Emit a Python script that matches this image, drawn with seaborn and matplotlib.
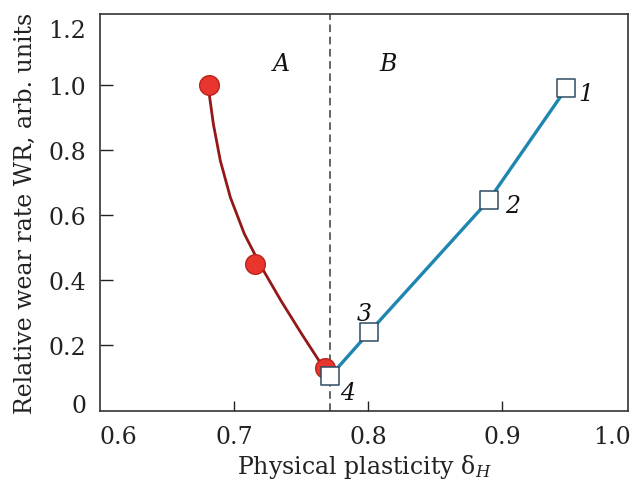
import matplotlib
matplotlib.use("Agg")
import matplotlib.pyplot as plt
import numpy as np
import pandas as pd
import seaborn as sns

# Region A: measured wear rate (circles) and the fitted curve through them
a_plasticity = [0.681, 0.716, 0.768]
a_wear = [1.00, 0.45, 0.13]
a_fit_plasticity = [0.6808, 0.6846, 0.6898, 0.6973, 0.7077, 0.7199, 0.7351, 0.7505, 0.7667]
a_fit_wear = [0.993, 0.880, 0.767, 0.654, 0.542, 0.444, 0.336, 0.234, 0.131]

# Region B: numbered samples (squares)
b_plasticity = [0.948, 0.890, 0.801, 0.772]
b_wear = [0.99, 0.645, 0.24, 0.105]
b_labels = ["1", "2", "3", "4"]

# Boundary between regions A and B
boundary = 0.772
region_names = ["A", "B"]

x_tick_labels = ["0.6", "0.7", "0.8", "0.9", "1.0"]
y_tick_labels = ["0", "0.2", "0.4", "0.6", "0.8", "1.0", "1.2"]
x_label = "Physical plasticity δ$_{H}$"
y_label = "Relative wear rate WR, arb. units"

sns.set_style("ticks")
plt.rcParams["font.family"] = ["DejaVu Serif"]
plt.rcParams["mathtext.fontset"] = "dejavuserif"

df_a = pd.DataFrame({"x": a_plasticity, "y": a_wear})
df_fit = pd.DataFrame({"x": a_fit_plasticity, "y": a_fit_wear})
df_b = pd.DataFrame({"x": b_plasticity, "y": b_wear})

fig = plt.figure(figsize=(6.32, 4.89), dpi=100)
ax = fig.add_axes([100 / 632, 77 / 489, 528 / 632, 397 / 489])

ax.axvline(boundary, color="#3a3a3a", lw=1.1, dashes=(5, 3), zorder=1)

red_line = "#931818"
red_fill = "#e8352e"
blue_line = "#1f86b0"
square_edge = "#2d4a63"

sns.lineplot(data=df_fit, x="x", y="y", ax=ax, color=red_line, lw=2.0,
             sort=False, estimator=None, zorder=2)
sns.scatterplot(data=df_a, x="x", y="y", ax=ax, s=200, color=red_fill,
                edgecolor="#bb221c", linewidth=1.0, zorder=3)
sns.lineplot(data=df_b, x="x", y="y", ax=ax, color=blue_line, lw=2.4,
             sort=False, estimator=None, zorder=4)
sns.scatterplot(data=df_b, x="x", y="y", ax=ax, marker="s", s=160,
                color="white", edgecolor=square_edge, linewidth=1.1, zorder=5)

# Sample numbers beside the squares (offsets in points)
offsets = [(14, -4), (17, -4), (-4, 13), (12, -12)]
for xv, yv, lab, off in zip(b_plasticity, b_wear, b_labels, offsets):
    ax.annotate(lab, (xv, yv), xytext=off, textcoords="offset points",
                ha="center", va="center", fontsize=17, fontstyle="italic",
                color="#111111")

# Region names
for name, xv in zip(region_names, [0.735, 0.815]):
    ax.text(xv, 1.065, name, ha="center", va="center", fontsize=17,
            fontstyle="italic", color="#111111")

ax.set_xlim(0.6, 0.994)
ax.set_ylim(-0.003, 1.2185)

# Outer tick labels sit inside the frame edges
ax.set_xticks([0.614, 0.7, 0.8, 0.9, 0.982])
ax.set_xticklabels(x_tick_labels)
ax.set_yticks([0.022, 0.2, 0.4, 0.6, 0.8, 1.0, 1.175])
ax.set_yticklabels(y_tick_labels)
for t in (ax.xaxis.get_major_ticks()[0], ax.xaxis.get_major_ticks()[-1],
          ax.yaxis.get_major_ticks()[0], ax.yaxis.get_major_ticks()[-1]):
    t.tick1line.set_visible(False)
    t.tick2line.set_visible(False)

ax.tick_params(axis="both", direction="in", labelsize=17, colors="#222222",
               width=1.0)
ax.tick_params(axis="x", length=7, pad=10)
ax.tick_params(axis="y", length=9, pad=10)

ax.set_xlabel(x_label, fontsize=17, color="#222222", labelpad=3)
ax.set_ylabel(y_label, fontsize=17, color="#222222", labelpad=8)

for sp in ax.spines.values():
    sp.set_visible(True)
    sp.set_color("#333333")
    sp.set_linewidth(1.2)

fig.savefig("out.png", dpi=100, facecolor="white")
